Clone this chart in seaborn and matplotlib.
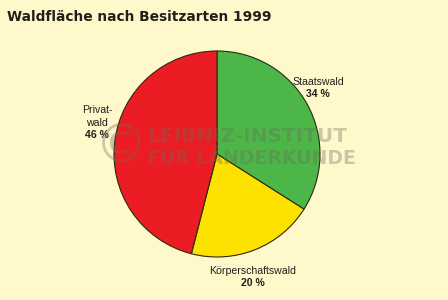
import matplotlib
matplotlib.use("Agg")
import matplotlib.pyplot as plt
import seaborn as sns

sns.set_theme(style="white")
plt.rcParams['font.family'] = ['DejaVu Sans']

categories = ["Staatswald", "Körperschaftswald", "Privatwald"]
shares = [34, 20, 46]
label_lines = [["Staatswald"], ["Körperschaftswald"], ["Privat-", "wald"]]
colors = ["#4cb748", "#fde200", "#ec1c24"]
bg = "#fef8cb"

fig = plt.figure(figsize=(4.48, 3.0), dpi=100, facecolor=bg)
cx, cy, r = 217, 154, 103
ax = fig.add_axes([(cx - r) / 448, (300 - cy - r) / 300, 2 * r / 448, 2 * r / 300])
ax.set_facecolor(bg)
wedges, _ = ax.pie(shares, colors=colors, startangle=90, counterclock=False,
                   wedgeprops=dict(edgecolor="#2a2a10", linewidth=0.8))
ax.set_aspect("equal")
ax.set_xlim(-1, 1)
ax.set_ylim(-1, 1)

fig.text(7 / 448, 1 - 17 / 300, "Waldfläche nach Besitzarten 1999", fontsize=9.9,
         fontweight="bold", color="#231f1a", va="center", ha="left", family="DejaVu Sans")

lab_pos = [(318, 82), (253, 271), (97, 110)]
for (x, y), lines, v in zip(lab_pos, label_lines, shares):
    for i, line in enumerate(lines):
        fig.text(x / 448, 1 - (y + 12.5 * i) / 300, line, fontsize=7.6, ha="center", va="center",
                 family="Liberation Sans", color="#231f1a")
    fig.text(x / 448, 1 - (y + 12.5 * len(lines)) / 300, f"{v} %", fontsize=7.6, ha="center",
             va="center", family="Liberation Sans", fontweight="bold", color="#231f1a")

wm = dict(color="#6e6a5a", alpha=0.35, fontweight="bold", family="DejaVu Sans Condensed",
          va="center", ha="left")
fig.text(147 / 448, 1 - 136.5 / 300, "LEIBNIZ-INSTITUT", fontsize=14.4, **wm)
fig.text(147 / 448, 1 - 158.5 / 300, "FÜR LÄNDERKUNDE", fontsize=13.6, **wm)
fig.text(121 / 448, 1 - 147 / 300, "©", fontsize=38, color="#6e6a5a", alpha=0.35,
         family="DejaVu Sans", ha="center", va="center")

fig.savefig("out.png", dpi=100, facecolor=bg)
